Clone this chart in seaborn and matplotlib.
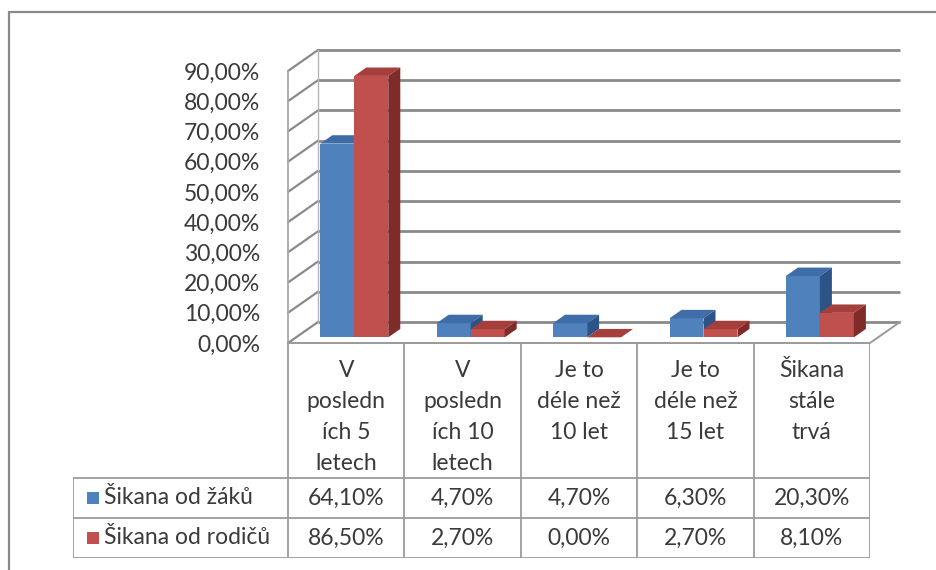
import numpy as np
import pandas as pd
import seaborn as sns
import matplotlib.pyplot as plt
from matplotlib.patches import Polygon, Rectangle

# Data
categories = ["V posledních 5 letech", "V posledních 10 letech",
              "Je to déle než 10 let", "Je to déle než 15 let", "Šikana stále trvá"]
header_labels = ["V\nposledn\ních 5\nletech", "V\nposledn\ních 10\nletech",
                 "Je to\ndéle než\n10 let", "Je to\ndéle než\n15 let", "Šikana\nstále\ntrvá"]
series = ["Šikana od žáků", "Šikana od rodičů"]
zaci = [64.10, 4.70, 4.70, 6.30, 20.30]
rodice = [86.50, 2.70, 0.00, 2.70, 8.10]
yticks = list(range(0, 91, 10))

front_cols = ["#4F81BD", "#C0504D"]
top_cols = ["#3E6DA9", "#A53F3C"]
side_cols = ["#2C5486", "#7E2B29"]

df = pd.DataFrame({
    "kategorie": categories * 2,
    "serie": [series[0]] * 5 + [series[1]] * 5,
    "hodnota": zaci + rodice,
})

sns.set_style("white")
plt.rcParams["font.family"] = ["Lato", "DejaVu Sans"]
FS = 16.5
TXT = "#3a3a3a"

W, H = 937, 570
fig = plt.figure(figsize=(W / 100, H / 100), dpi=100)

# front face of the plot box: x 288..870 px, y 343 (0%) .. 71 (90%)
ax = fig.add_axes([288 / W, (H - 343) / H, 582 / W, 272 / H])
ax.set_facecolor("none")

sns.barplot(data=df, x="kategorie", y="hodnota", hue="serie", hue_order=series,
            palette=front_cols, width=0.584, gap=0, saturation=1,
            legend=False, ax=ax, zorder=3)
ax.set_xlim(-0.5, 4.5)
ax.set_ylim(0, 90)

# 3D depth vector in data units (30 px right, 21 px up)
px_x = 582 / 5
px_y = 272 / 90
dx, dy = 30 / px_x, 21 / px_y

grid_c = "#8a8a8a"
# back wall + left wall gridlines
for t in yticks:
    ax.plot([-0.5 + dx, 4.5 + dx], [t + dy, t + dy], color=grid_c, lw=2.0,
            clip_on=False, zorder=1, solid_capstyle="butt")
    ax.plot([-0.5, -0.5 + dx], [t, t + dy], color=grid_c, lw=1.6,
            clip_on=False, zorder=1)
ax.plot([-0.5, -0.5], [0, 90], color="#a8a8a8", lw=1.3, clip_on=False, zorder=1)
ax.plot([-0.5 + dx, -0.5 + dx], [dy, 90 + dy], color="#b5b5b5", lw=1.0,
        clip_on=False, zorder=1)
# floor
ax.plot([-0.5, 4.5, 4.5 + dx], [0, 0, dy], color="#9a9a9a", lw=1.4,
        clip_on=False, zorder=2)

# give the seaborn bars depth: shift the front face back a little, add top and side
shift = 0.27
depth = 0.4
n = len(categories)
for i, p in enumerate(ax.patches):
    k = i // n
    p.set_x(p.get_x() + shift * dx)
    p.set_y(shift * dy)
    p.set_zorder(3 + k)
    p.set_linewidth(0)
    x0, x1 = p.get_x(), p.get_x() + p.get_width()
    y0, y1 = p.get_y(), p.get_y() + p.get_height()
    bx, by = depth * dx, depth * dy
    top = Polygon([(x0, y1), (x1, y1), (x1 + bx, y1 + by), (x0 + bx, y1 + by)],
                  closed=True, facecolor=top_cols[k], edgecolor="none",
                  zorder=3.1 + k, clip_on=False)
    side = Polygon([(x1, y0), (x1 + bx, y0 + by), (x1 + bx, y1 + by), (x1, y1)],
                   closed=True, facecolor=side_cols[k], edgecolor="none",
                   zorder=3.2 + k, clip_on=False)
    ax.add_patch(top)
    ax.add_patch(side)

ax.set_yticks(yticks)
ax.set_yticklabels([f"{t:.2f}".replace(".", ",") + "%" for t in yticks],
                   fontsize=FS, color=TXT)
ax.tick_params(axis="y", length=0, pad=20)
ax.set_xticks([])
ax.set_xlabel("")
ax.set_ylabel("")
for s in ax.spines.values():
    s.set_visible(False)

# data table below the plot
tab = fig.add_axes([73 / W, (H - 558) / H, (870 - 73) / W, (558 - 343) / H])
left = -0.5 - (288 - 73) / px_x
tab.set_xlim(left, 4.5)
tab.set_ylim(215, 0)
tab.axis("off")
line_c = "#9c9c9c"
tab.plot([-0.5, 4.5], [0, 0], color=line_c, lw=1.3)
for yy in [135, 175, 215]:
    tab.plot([left, 4.5], [yy, yy], color=line_c, lw=1.3)
for j in range(n + 1):
    tab.plot([j - 0.5, j - 0.5], [0, 215], color=line_c, lw=1.3)
tab.plot([left, left], [135, 215], color=line_c, lw=1.3)

for j, lab in enumerate(header_labels):
    tab.text(j, 17, lab, ha="center", va="top", fontsize=FS, color=TXT,
             linespacing=1.58)

rows = [zaci, rodice]
row_y = [155, 195]
for k in range(2):
    tab.scatter([left + 19.5 / px_x], [row_y[k]], marker="s", s=80,
                color=front_cols[k], linewidths=0)
    tab.text(left + 31 / px_x, row_y[k], series[k], ha="left", va="center",
             fontsize=FS, color=TXT)
    for j, v in enumerate(rows[k]):
        tab.text(j, row_y[k], f"{v:.2f}".replace(".", ",") + "%", ha="center",
                 va="center", fontsize=FS, color=TXT)

# chart area border (runs off the right and bottom edges in the source)
fig.patches.append(Rectangle((9 / W, -0.1), 1.2, (H - 12) / H + 0.1,
                             transform=fig.transFigure, fill=False,
                             edgecolor="#8a8a8a", lw=1.6))

plt.savefig("out.png", dpi=100)
